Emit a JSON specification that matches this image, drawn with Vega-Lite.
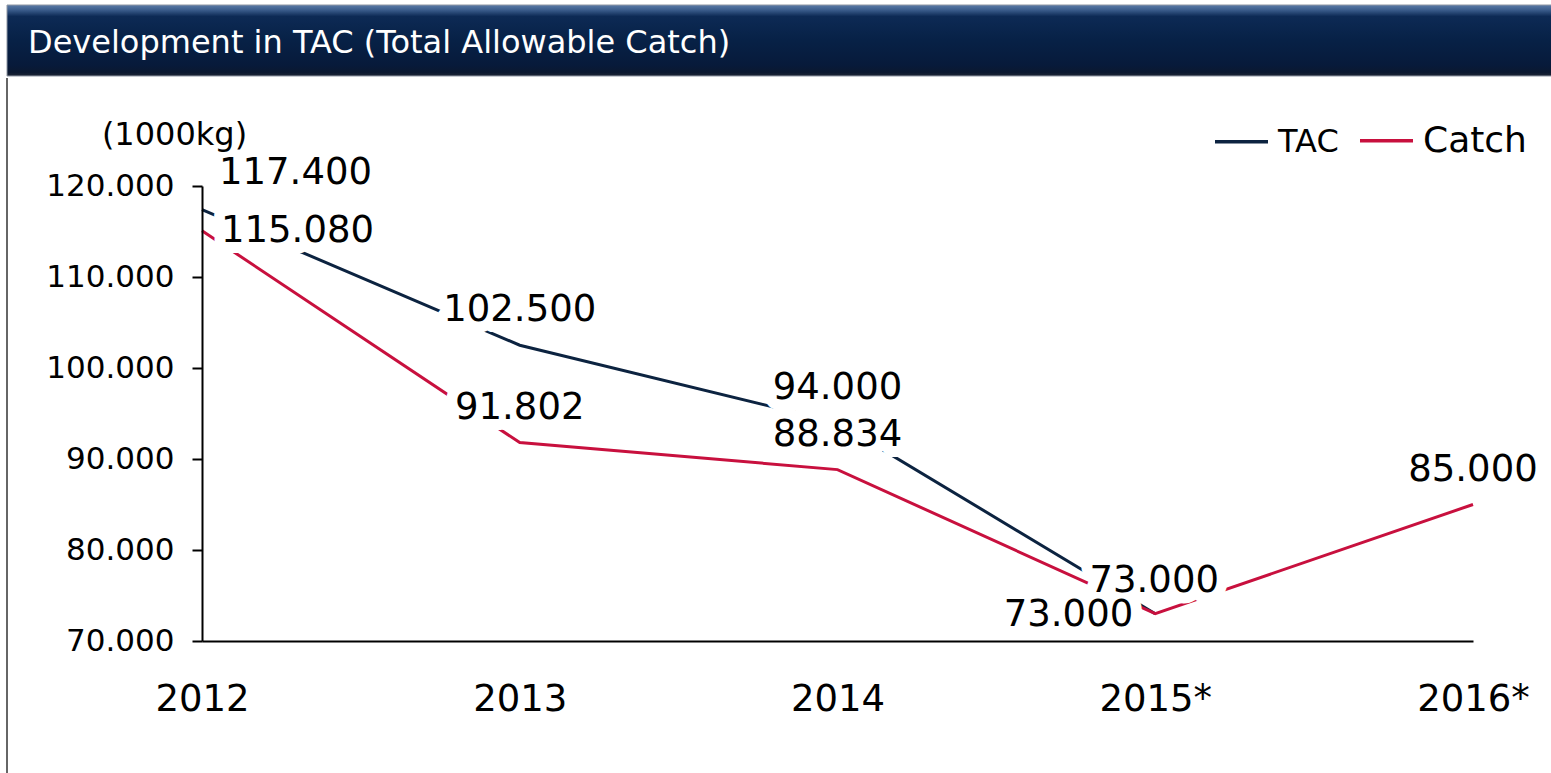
{
  "$schema": "https://vega.github.io/schema/vega-lite/v6.json",
  "padding": {"left": 6, "top": 4, "right": 0, "bottom": 0},
  "background": "white",
  "spacing": 0,
  "config": {
    "view": {"stroke": null},
    "font": "DejaVu Sans",
    "locale": {"number": {"decimal": ",", "thousands": ".", "grouping": [3], "currency": ["", " €"]}}
  },
  "datasets": {
    "header": [{"title": "Development in TAC (Total Allowable Catch)"}],
    "tac": [
      {"year": "2012", "series": "TAC", "value": 117400},
      {"year": "2013", "series": "TAC", "value": 102500},
      {"year": "2014", "series": "TAC", "value": 94000},
      {"year": "2015*", "series": "TAC", "value": 73000},
      {"year": "2012", "series": "Catch", "value": 115080},
      {"year": "2013", "series": "Catch", "value": 91802},
      {"year": "2014", "series": "Catch", "value": 88834},
      {"year": "2015*", "series": "Catch", "value": 73000},
      {"year": "2016*", "series": "Catch", "value": 85000}
    ]
  },
  "vconcat": [
    {
      "width": 1545,
      "height": 71,
      "data": {"name": "header"},
      "layer": [
        {
          "mark": {
            "type": "rect",
            "stroke": "#8e96a3",
            "strokeWidth": 1,
            "fill": {
              "gradient": "linear", "x1": 0, "y1": 0, "x2": 0, "y2": 1,
              "stops": [
                {"offset": 0, "color": "#5a7aa6"},
                {"offset": 0.07, "color": "#3b5d8c"},
                {"offset": 0.16, "color": "#0d2a55"},
                {"offset": 0.5, "color": "#072146"},
                {"offset": 0.85, "color": "#071a3a"},
                {"offset": 0.95, "color": "#0b1830"},
                {"offset": 1, "color": "#1e2535"}
              ]
            }
          },
          "encoding": {}
        },
        {
          "mark": {"type": "text", "align": "left", "baseline": "alphabetic", "dx": -751.5, "dy": 12.5, "fontSize": 32, "fill": "white", "font": "DejaVu Sans"},
          "encoding": {"text": {"field": "title"}}
        }
      ]
    },
    {
      "width": 1545,
      "height": 698,
      "view": {"stroke": "#333333", "strokeWidth": 1.5, "strokeDash": [0, 3788, 698, 0]},
      "data": {"name": "tac"},
      "encoding": {
        "x": {
          "field": "year", "type": "nominal",
          "sort": ["2012", "2013", "2014", "2015*", "2016*"],
          "scale": {"type": "point", "range": [195, 1466], "padding": 0},
          "axis": {"labelAngle": 0, "offset": -135, "ticks": false, "domainColor": "black", "domainWidth": 2, "labelFontSize": 37, "labelColor": "black", "labelPadding": 40, "title": null, "grid": false, "zindex": 1, "labelFont": "DejaVu Sans"}
        },
        "y": {
          "field": "value", "type": "quantitative",
          "scale": {"domain": [70000, 120000], "range": [563, 108], "nice": false, "zero": false},
          "axis": {"values": [70000, 80000, 90000, 100000, 110000, 120000], "format": ",.0f", "offset": -195, "grid": false, "domainColor": "black", "domainWidth": 2, "tickColor": "black", "tickWidth": 2, "tickSize": 10, "labelFontSize": 31, "labelColor": "black", "labelPadding": 18, "labelFont": "DejaVu Sans", "title": "(1000kg)", "titleAngle": 0, "titleX": -28, "titleY": 66, "titleAlign": "center", "titleBaseline": "alphabetic", "titleFontSize": 32, "titleFontWeight": "normal", "titleColor": "black", "titleFont": "DejaVu Sans", "zindex": 1}
        },
        "text": {"field": "value", "type": "quantitative", "format": ",.0f"}
      },
      "layer": [
        {
          "transform": [{"filter": "datum.series === 'TAC'"}],
          "mark": {"type": "line", "strokeWidth": 3},
          "encoding": {
            "text": null,
            "color": {
              "field": "series", "type": "nominal",
              "scale": {"domain": ["TAC", "Catch"], "range": ["#0c2340", "#c8103e"]},
              "legend": {
                "orient": "none", "legendX": 1206, "legendY": 107, "direction": "horizontal", "title": null,
                "symbolType": "stroke", "symbolSize": 2809, "symbolStrokeWidth": 3.5,
                "labelFontSize": 32, "labelColor": "black", "labelOffset": 8, "columnPadding": 14, "labelFont": "DejaVu Sans",
                "encode": {"labels": {"update": {"fontSize": {"signal": "datum.value === 'Catch' ? 36 : 32"}}}}
              }
            }
          }
        },
        {
          "transform": [{"filter": "datum.series === 'Catch'"}],
          "mark": {"type": "line", "strokeWidth": 3},
          "encoding": {"text": null, "color": {"field": "series", "type": "nominal"}}
        },
        {
          "transform": [{"filter": "!(datum.year === '2012' || datum.year === '2015*')"}],
          "mark": {"type": "text", "align": "center", "baseline": "middle", "dy": -35, "fontSize": 37, "fill": "white", "stroke": "white", "strokeWidth": 22, "strokeJoin": "round"}
        },
        {
          "transform": [{"filter": "datum.year === '2015*' && datum.series === 'TAC'"}],
          "mark": {"type": "text", "align": "center", "baseline": "middle", "dx": -1, "dy": -33, "fontSize": 37, "fill": "white", "stroke": "white", "strokeWidth": 22, "strokeJoin": "round"}
        },
        {
          "transform": [{"filter": "datum.year === '2012' && datum.series === 'TAC'"}],
          "mark": {"type": "text", "align": "left", "baseline": "middle", "dx": 17, "dy": -37, "fontSize": 37, "fill": "white", "stroke": "white", "strokeWidth": 22, "strokeJoin": "round"}
        },
        {
          "transform": [{"filter": "datum.year === '2012' && datum.series === 'Catch'"}],
          "mark": {"type": "text", "align": "left", "baseline": "middle", "dx": 19, "dy": 0, "fontSize": 37, "fill": "white", "stroke": "white", "strokeWidth": 22, "strokeJoin": "round"}
        },
        {
          "transform": [{"filter": "datum.year === '2015*' && datum.series === 'Catch'"}],
          "mark": {"type": "text", "align": "right", "baseline": "middle", "dx": -22, "dy": 1, "fontSize": 37, "fill": "white", "stroke": "white", "strokeWidth": 22, "strokeJoin": "round"}
        },
        {
          "transform": [{"filter": "!(datum.year === '2012' || datum.year === '2015*')"}],
          "mark": {"type": "text", "align": "center", "baseline": "middle", "dy": -35, "fontSize": 37, "fill": "black"}
        },
        {
          "transform": [{"filter": "datum.year === '2015*' && datum.series === 'TAC'"}],
          "mark": {"type": "text", "align": "center", "baseline": "middle", "dx": -1, "dy": -33, "fontSize": 37, "fill": "black"}
        },
        {
          "transform": [{"filter": "datum.year === '2012' && datum.series === 'TAC'"}],
          "mark": {"type": "text", "align": "left", "baseline": "middle", "dx": 17, "dy": -37, "fontSize": 37, "fill": "black"}
        },
        {
          "transform": [{"filter": "datum.year === '2012' && datum.series === 'Catch'"}],
          "mark": {"type": "text", "align": "left", "baseline": "middle", "dx": 19, "dy": 0, "fontSize": 37, "fill": "black"}
        },
        {
          "transform": [{"filter": "datum.year === '2015*' && datum.series === 'Catch'"}],
          "mark": {"type": "text", "align": "right", "baseline": "middle", "dx": -22, "dy": 1, "fontSize": 37, "fill": "black"}
        }
      ]
    }
  ]
}
